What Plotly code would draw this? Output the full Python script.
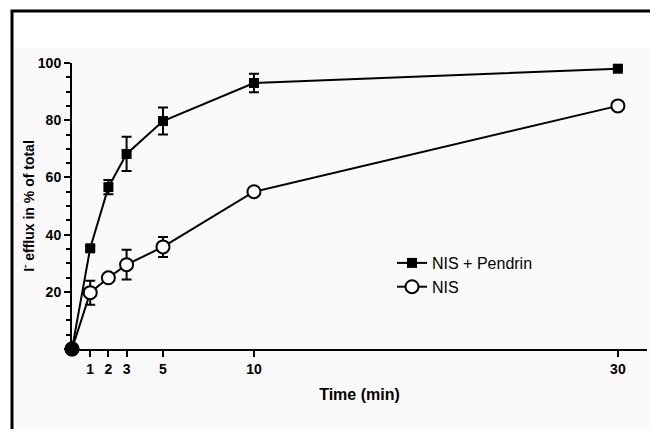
import plotly.graph_objects as go

time_min = [0, 1, 2, 3, 5, 10, 30]
pendrin_vals = [0, 35.2, 56.6, 68.2, 79.7, 93, 98]
pendrin_err = [0, 0.8, 2.5, 6, 4.7, 3.2, 0.8]
nis_vals = [0, 19.7, 24.9, 29.5, 35.7, 55, 85]
nis_err = [0, 4.2, 1, 5.2, 3.5, 1, 1]
x_ticks = [1, 2, 3, 5, 10, 30]
y_ticks = [0, 20, 40, 60, 80, 100]
y_tick_text = ["", "20", "40", "60", "80", "100"]

W, H = 650, 429
L, R, T, B = 72, 3, 63, 80
pw = W - L - R
ph = H - T - B

fig = go.Figure()
fig.add_trace(go.Scatter(
    x=time_min, y=nis_vals, name="NIS", mode="lines+markers",
    line=dict(color="black", width=2),
    marker=dict(symbol="circle", size=13, color="white",
                line=dict(color="black", width=2)),
    error_y=dict(type="data", array=nis_err, color="black", thickness=2, width=5),
    cliponaxis=False, legendgroup="b",
))
fig.add_trace(go.Scatter(
    x=time_min, y=pendrin_vals, name="NIS + Pendrin", mode="lines+markers",
    line=dict(color="black", width=2),
    marker=dict(symbol="square", size=10, color="black"),
    error_y=dict(type="data", array=pendrin_err, color="black", thickness=2, width=5),
    cliponaxis=False, legendgroup="a",
))
# origin point (both series start at 0) drawn as a filled dot
fig.add_trace(go.Scatter(
    x=time_min[:1], y=nis_vals[:1], mode="markers", showlegend=False,
    marker=dict(symbol="circle", size=15, color="black"),
    cliponaxis=False, hoverinfo="skip",
))

axis_font = dict(family="Liberation Sans Narrow, Arial Narrow, Liberation Sans, sans-serif",
                 size=14, color="black", weight="bold")

fig.update_layout(
    width=W, height=H,
    margin=dict(l=L, r=R, t=T, b=B),
    paper_bgcolor="white", plot_bgcolor="rgba(0,0,0,0)",
    showlegend=True,
    legend=dict(x=(392 - L) / pw, y=(349 - 246) / ph,
                xanchor="left", yanchor="top", traceorder="reversed",
                bgcolor="rgba(0,0,0,0)", tracegroupgap=16,
                font=dict(family="Liberation Sans, Arial, sans-serif", size=16, color="black")),
    xaxis=dict(range=[0, 31.6], tickvals=x_ticks, ticks="outside", ticklen=6,
               tickwidth=2, tickcolor="black", showline=True, linecolor="black",
               linewidth=2, showgrid=False, zeroline=False, tickfont=axis_font,
               title=dict(text="Time (min)", font=dict(family=axis_font["family"], size=16,
                                                      color="black", weight="bold"),
                          standoff=13)),
    yaxis=dict(range=[0, 100], tickvals=y_ticks, ticktext=y_tick_text, ticks="outside",
               ticklen=6, tickwidth=2, tickcolor="black", showline=True, linecolor="black",
               linewidth=2, showgrid=False, zeroline=False, tickfont=axis_font,
               minor=dict(dtick=5, ticks="outside", ticklen=4, tickwidth=1.5, tickcolor="black",
                          showgrid=False),
               title=dict(text="I<sup>-</sup> efflux in % of total",
                          font=dict(family="Liberation Sans, Arial, sans-serif", size=14,
                                    color="black", weight="bold"),
                          standoff=0)),
)

# faint grey panel and outer frame (frame runs off the right and bottom edges)
fig.add_shape(type="rect", xref="paper", yref="paper",
              x0=(13 - L) / pw, x1=(1000 - L) / pw,
              y0=(H - 1000 - B) / ph, y1=(H - 48 - B) / ph,
              line=dict(width=0), fillcolor="#fafafa", layer="below")
fig.add_shape(type="rect", xref="paper", yref="paper",
              x0=(12 - L) / pw, x1=(1000 - L) / pw,
              y0=(H - 1000 - B) / ph, y1=(H - 11 - B) / ph,
              line=dict(color="black", width=3), fillcolor="rgba(0,0,0,0)", layer="below")

fig.write_html("out.html", config={"displayModeBar": False},
               post_script="document.body.style.margin='0';document.body.style.overflow='hidden';")
